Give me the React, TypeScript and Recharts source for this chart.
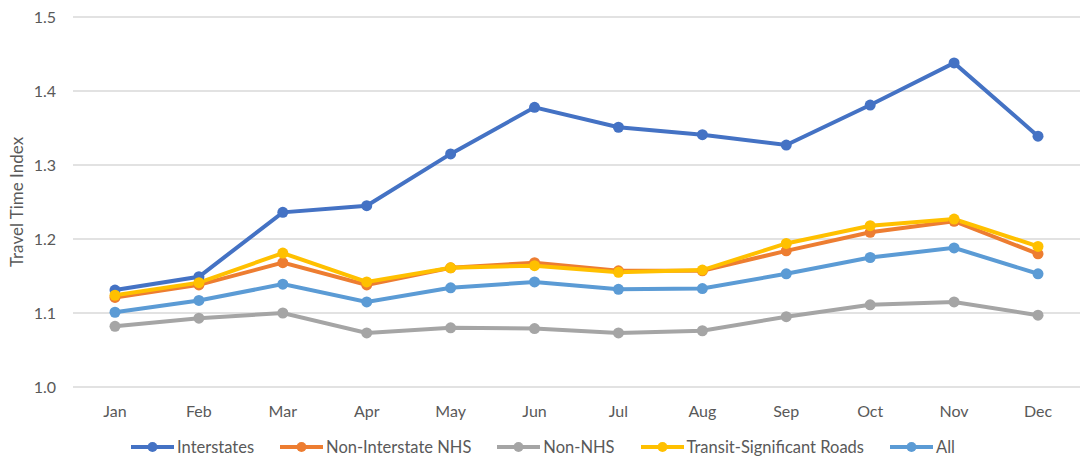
import React from "react";
import {
  CartesianGrid,
  Legend,
  Line,
  LineChart,
  XAxis,
  YAxis,
} from "recharts";

document.body.style.margin = "0";

const MONTHS = ["Jan", "Feb", "Mar", "Apr", "May", "Jun", "Jul", "Aug", "Sep", "Oct", "Nov", "Dec"];

const INTERSTATES = [1.131, 1.149, 1.236, 1.245, 1.315, 1.378, 1.351, 1.341, 1.327, 1.381, 1.438, 1.339];
const NON_INTERSTATE_NHS = [1.121, 1.138, 1.168, 1.138, 1.161, 1.168, 1.157, 1.157, 1.184, 1.209, 1.224, 1.18];
const NON_NHS = [1.082, 1.093, 1.1, 1.073, 1.08, 1.079, 1.073, 1.076, 1.095, 1.111, 1.115, 1.097];
const TRANSIT = [1.124, 1.141, 1.181, 1.142, 1.161, 1.164, 1.155, 1.158, 1.194, 1.218, 1.227, 1.19];
const ALL = [1.101, 1.117, 1.139, 1.115, 1.134, 1.142, 1.132, 1.133, 1.153, 1.175, 1.188, 1.153];

const Y_TICKS = [1.0, 1.1, 1.2, 1.3, 1.4, 1.5];

const SERIES = [
  { key: "interstates", name: "Interstates", color: "#4472C4", values: INTERSTATES },
  { key: "nonInterstateNhs", name: "Non-Interstate NHS", color: "#ED7D31", values: NON_INTERSTATE_NHS },
  { key: "nonNhs", name: "Non-NHS", color: "#A5A5A5", values: NON_NHS },
  { key: "transit", name: "Transit-Significant Roads", color: "#FFC000", values: TRANSIT },
  { key: "all", name: "All", color: "#5B9BD5", values: ALL },
];

const data = MONTHS.map((m, i) => {
  const row: Record<string, string | number> = { month: m };
  SERIES.forEach((s) => {
    row[s.key] = s.values[i];
  });
  return row;
});

const FONT = "Lato, 'Open Sans', sans-serif";
const TEXT = "#595959";

function LegendContent() {
  return (
    <div
      style={{
        display: "flex",
        justifyContent: "center",
        alignItems: "center",
        height: 24,
        fontFamily: FONT,
        fontSize: 16.5,
        color: TEXT,
        paddingLeft: 6,
      }}
    >
      {SERIES.map((s, i) => (
        <div
          key={s.key}
          style={{ display: "flex", alignItems: "center", marginLeft: i === 0 ? 0 : 26 }}
        >
          <svg width={43} height={12} style={{ marginRight: 3 }}>
            <line x1={0} y1={6} x2={43} y2={6} stroke={s.color} strokeWidth={4} />
            <circle cx={21.5} cy={6} r={5} fill={s.color} />
          </svg>
          <span>{s.name}</span>
        </div>
      ))}
    </div>
  );
}

export default function App() {
  return (
    <div style={{ width: 1081, height: 464, background: "#fff" }}>
      <LineChart
        width={1081}
        height={464}
        data={data}
        margin={{ top: 17, right: 1, left: 0, bottom: 5 }}
      >
        <CartesianGrid vertical={false} stroke="#d9d9d9" strokeWidth={1.3} />
        <XAxis
          dataKey="month"
          axisLine={false}
          tickLine={false}
          height={48}
          tickMargin={13}
          padding={{ left: 42, right: 42 }}
          tick={{ fill: TEXT, fontSize: 16, fontFamily: FONT }}
          interval={0}
        />
        <YAxis
          domain={[1, 1.5]}
          ticks={Y_TICKS}
          axisLine={false}
          tickLine={false}
          width={73}
          tickMargin={11}
          tickFormatter={(v: number) => v.toFixed(1)}
          tick={{ fill: TEXT, fontSize: 16, fontFamily: FONT }}
          label={{
            value: "Travel Time Index",
            angle: -90,
            position: "insideLeft",
            offset: 17,
            style: { textAnchor: "middle", fill: TEXT, fontSize: 17, fontFamily: FONT },
          }}
        />
        <Legend verticalAlign="bottom" content={() => <LegendContent />} />
        {SERIES.map((s) => (
          <Line
            key={s.key}
            dataKey={s.key}
            name={s.name}
            stroke={s.color}
            strokeWidth={4}
            dot={{ r: 5.5, fill: s.color, stroke: s.color, strokeWidth: 0 }}
            activeDot={false}
            isAnimationActive={false}
            type="linear"
          />
        ))}
      </LineChart>
    </div>
  );
}
